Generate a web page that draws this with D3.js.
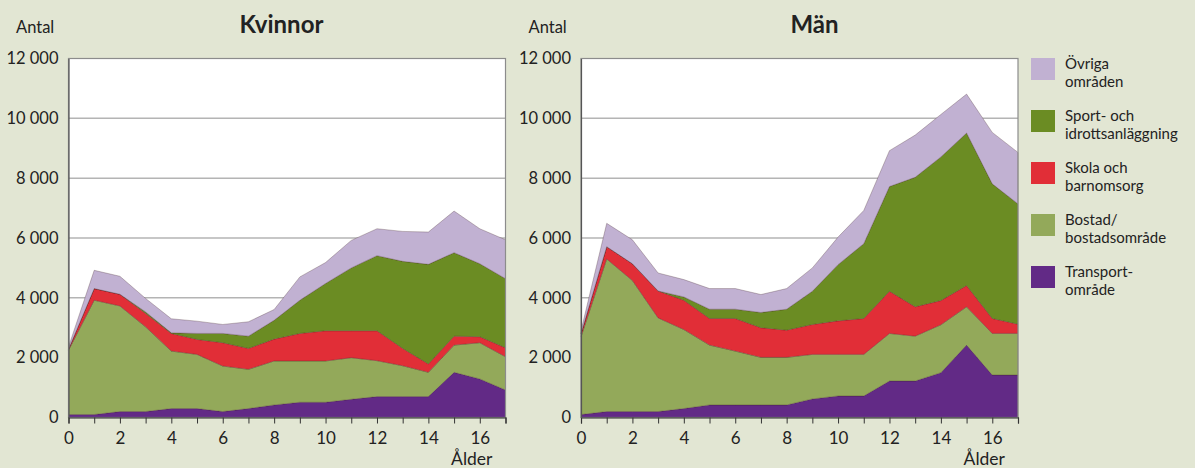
<!DOCTYPE html>
<html><head><meta charset="utf-8">
<script src="https://cdn.jsdelivr.net/npm/d3@7"></script>
<style>
html,body{margin:0;padding:0;background:#e2e6d3;}
svg{display:block;font-family:Lato,"Open Sans",sans-serif;}
</style></head><body>
<svg id="chart" width="1195" height="468"></svg>
<script>
const ages = [0,1,2,3,4,5,6,7,8,9,10,11,12,13,14,15,16,17];
const yTicks = [0,2000,4000,6000,8000,10000,12000];
const xTickLabels = [0,2,4,6,8,10,12,14,16];
const seriesKeys = ["transport","bostad","skola","sport","ovriga"];
const seriesNames = {
  ovriga:["Övriga","områden"],
  sport:["Sport- och","idrottsanläggning"],
  skola:["Skola och","barnomsorg"],
  bostad:["Bostad/","bostadsområde"],
  transport:["Transport-","område"]
};
const legendOrder = ["ovriga","sport","skola","bostad","transport"];
const colors = {ovriga:"#c1b1d2", sport:"#6b8c23", skola:"#e12e37", bostad:"#93a95a", transport:"#622a86"};

// Kvinnor
const kTransport = [100,100,200,200,300,300,200,300,420,510,510,610,700,700,700,1510,1290,920];
const kBostad    = [2150,3820,3530,2830,1920,1810,1520,1310,1470,1380,1380,1390,1200,1030,810,910,1210,1110];
const kSkola     = [30,390,390,450,590,500,780,700,730,920,1010,900,1000,580,280,300,200,300];
const kSport     = [0,0,0,50,20,200,310,410,630,1110,1580,2100,2510,2910,3330,2790,2440,2310];
const kOvriga    = [80,610,600,450,470,410,300,480,360,780,700,920,900,1000,1080,1390,1170,1300];
// Män
const mTransport = [100,200,200,200,300,420,420,420,420,620,720,720,1220,1220,1500,2420,1420,1420];
const mBostad    = [2600,5100,4380,3130,2640,2000,1800,1590,1590,1490,1390,1390,1590,1500,1600,1280,1390,1390];
const mSkola     = [100,410,560,900,980,890,1090,990,910,1000,1120,1200,1410,980,810,710,500,310];
const mSport     = [0,0,0,0,110,310,310,510,700,1110,1880,2500,3500,4330,4800,5100,4500,4020];
const mOvriga    = [100,780,800,600,580,690,690,600,690,780,920,1110,1200,1410,1420,1300,1720,1720];

function buildRows(t,b,s,sp,o){
  return ages.map((a,i)=>({age:a,transport:t[i],bostad:b[i],skola:s[i],sport:sp[i],ovriga:o[i]}));
}
const panels = [
  {title:"Kvinnor", rows:buildRows(kTransport,kBostad,kSkola,kSport,kOvriga), x0:68.5, x1:505.5, tx:281.5},
  {title:"Män", rows:buildRows(mTransport,mBostad,mSkola,mSport,mOvriga), x0:581, x1:1018, tx:814.5}
];
const svg = d3.select("#chart");
const yTop = 58.5, yBot = 417.5;
const y = d3.scaleLinear().domain([0,12000]).range([yBot,yTop]);
const stack = d3.stack().keys(seriesKeys);

panels.forEach(p=>{
  const x = d3.scaleLinear().domain([0,17]).range([p.x0,p.x1]);
  const g = svg.append("g");
  g.append("rect").attr("x",p.x0).attr("y",yTop).attr("width",p.x1-p.x0).attr("height",yBot-yTop).attr("fill","#fff");
  g.selectAll("line.grid").data(yTicks.filter(d=>d>0 && d<12000)).enter().append("line")
    .attr("x1",p.x0).attr("x2",p.x1).attr("y1",d=>y(d)).attr("y2",d=>y(d))
    .attr("stroke","#b4b4b4").attr("stroke-width",1.5);
  const area = d3.area().x(d=>x(d.data.age)).y0(d=>y(d[0])).y1(d=>y(d[1]));
  g.selectAll("path.layer").data(stack(p.rows)).enter().append("path")
    .attr("d",area).attr("fill",d=>colors[d.key])
    .attr("stroke","rgba(60,30,30,0.45)").attr("stroke-width",0.6).attr("stroke-linejoin","round");
  g.append("rect").attr("x",p.x0).attr("y",yTop).attr("width",p.x1-p.x0).attr("height",yBot-yTop)
    .attr("fill","none").attr("stroke","#8c8c8c").attr("stroke-width",1.2);
  const xa = g.append("g").attr("transform",`translate(0,${yBot})`)
    .call(d3.axisBottom(x).tickValues(ages).tickSize(6).tickFormat(d=>xTickLabels.includes(d)?d:""));
  xa.select(".domain").attr("stroke","#333").attr("stroke-width",1.2);
  xa.selectAll(".tick line").attr("stroke","#333");
  xa.selectAll(".tick text").attr("font-size",17).attr("fill","#222").attr("font-family","Lato").attr("dy","1.0em");
  const ya = g.append("g").attr("transform",`translate(${p.x0},0)`)
    .call(d3.axisLeft(y).tickValues(yTicks).tickSize(0).tickPadding(10).tickFormat(d=>d3.format(",")(d).replace(/,/g," ")));
  ya.select(".domain").attr("stroke","#555").attr("stroke-width",1.2);
  ya.selectAll(".tick text").attr("font-size",16.5).attr("fill","#222").attr("font-family","Lato");
  g.append("text").attr("x",p.x0-52.5).attr("y",33).attr("font-size",16.5).attr("fill","#222").text("Antal");
  g.append("text").attr("x",p.tx).attr("y",33).attr("text-anchor","middle")
    .attr("font-size",24).attr("font-weight","bold").attr("fill","#222").text(p.title);
  g.append("text").attr("x",x(16)-8).attr("y",465).attr("text-anchor","middle")
    .attr("font-size",17.5).attr("fill","#222").text("Ålder");
});

const lg = svg.append("g");
legendOrder.forEach((k,i)=>{
  const yy = 58 + i*52;
  lg.append("rect").attr("x",1031).attr("y",yy).attr("width",24).attr("height",22).attr("fill",colors[k]);
  seriesNames[k].forEach((t,j)=>{
    lg.append("text").attr("x",1065).attr("y",yy+10.5+j*18).attr("font-size",15).attr("fill","#222").text(t);
  });
});
</script></body></html>
